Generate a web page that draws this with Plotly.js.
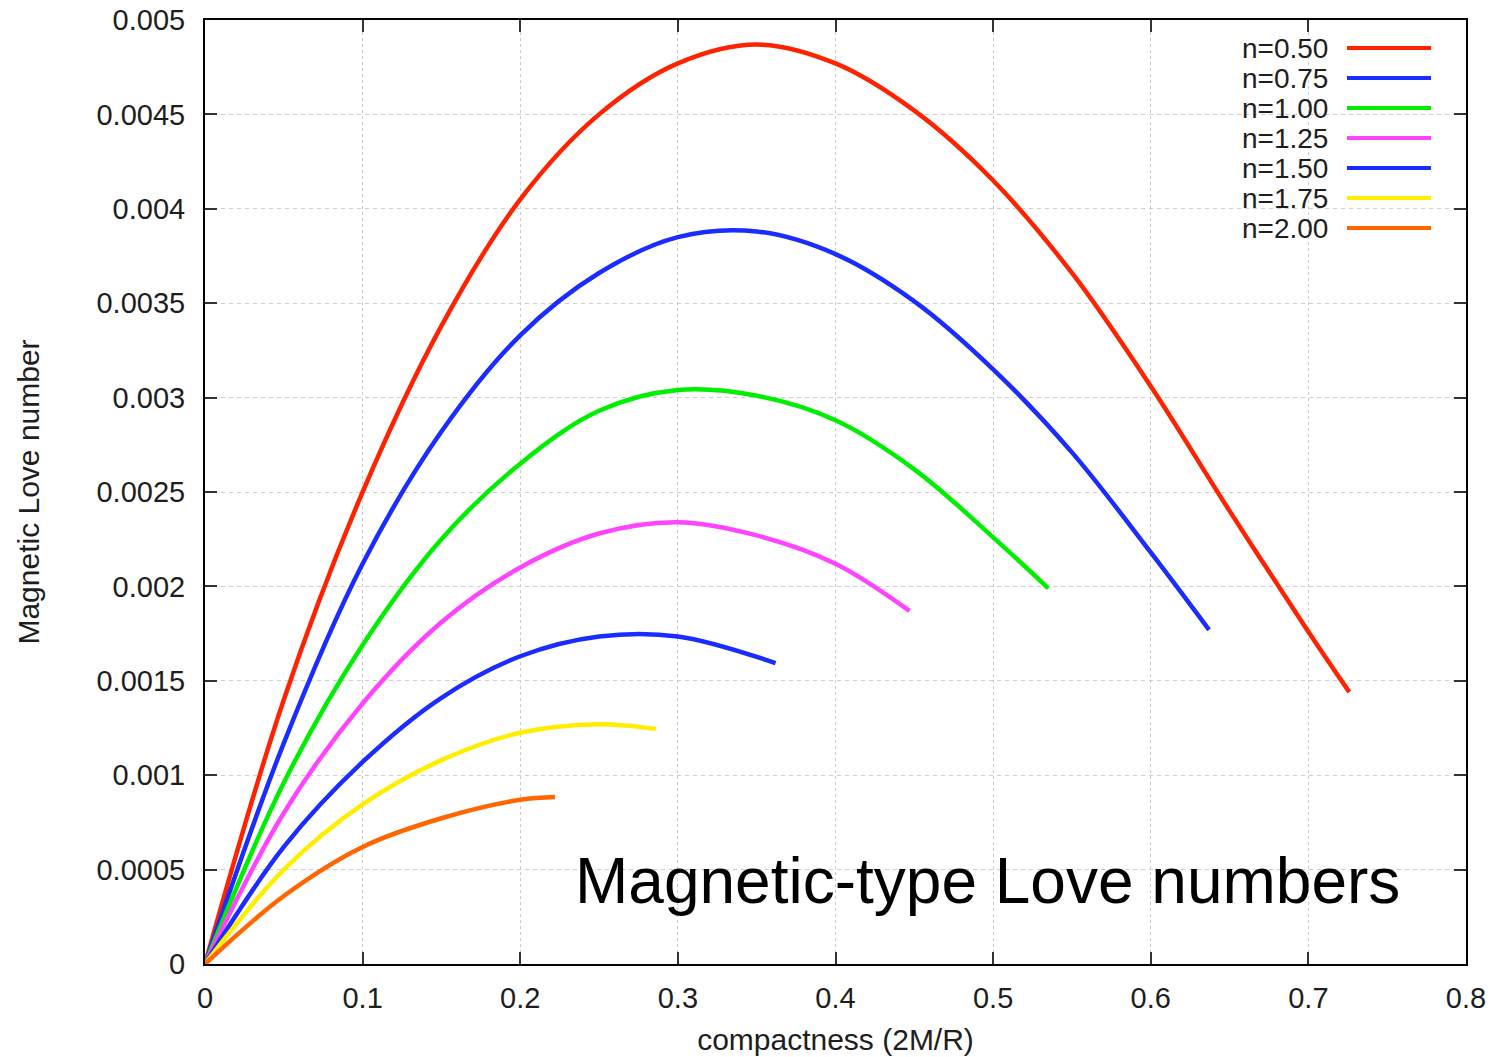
<!DOCTYPE html>
<html>
<head>
<meta charset="utf-8">
<script src="https://cdn.plot.ly/plotly-3.0.1.min.js"></script>
<style>
  html, body { margin: 0; padding: 0; background: #ffffff; }
  #chart { width: 1499px; height: 1057px; }
</style>
</head>
<body>
<div id="chart"></div>
<script>
// ---- Data ----
const seriesNames = ["n=0.50", "n=0.75", "n=1.00", "n=1.25", "n=1.50", "n=1.75", "n=2.00"];
const seriesColors = ["#ff2200", "#1a2cff", "#00ee00", "#ff44ff", "#1a2cff", "#ffee00", "#ff6600"];

const xN050 = [0, 0.05, 0.1, 0.15, 0.2, 0.25, 0.3, 0.35, 0.4, 0.45, 0.5, 0.55, 0.6, 0.65, 0.7, 0.726];
const yN050 = [0, 0.00140, 0.00250, 0.00338, 0.00405, 0.00450, 0.00477, 0.00487, 0.00477, 0.00452, 0.00415, 0.00366, 0.00306, 0.00240, 0.00176, 0.00144];

const xN075 = [0, 0.05, 0.1, 0.15, 0.2, 0.25, 0.3, 0.35, 0.4, 0.45, 0.5, 0.55, 0.6, 0.637];
const yN075 = [0, 0.00117, 0.00212, 0.00282, 0.00333, 0.00366, 0.00385, 0.00388, 0.00376, 0.00351, 0.00315, 0.00271, 0.00218, 0.00177];

const xN100 = [0, 0.05, 0.1, 0.15, 0.2, 0.25, 0.3, 0.35, 0.4, 0.45, 0.5, 0.535];
const yN100 = [0, 0.00096, 0.00169, 0.00225, 0.00265, 0.00293, 0.00304, 0.00301, 0.00288, 0.00262, 0.00226, 0.00199];

const xN125 = [0, 0.05, 0.1, 0.15, 0.2, 0.25, 0.3, 0.35, 0.4, 0.447];
const yN125 = [0, 0.00080, 0.00138, 0.00181, 0.00210, 0.00228, 0.00234, 0.00227, 0.00212, 0.00187];

const xN150 = [0, 0.05, 0.1, 0.15, 0.2, 0.25, 0.3, 0.362];
const yN150 = [0, 0.00062, 0.00107, 0.00141, 0.00163, 0.001735, 0.001735, 0.001594];

const xN175 = [0, 0.05, 0.1, 0.15, 0.2, 0.25, 0.286];
const yN175 = [0, 0.00050, 0.000845, 0.00108, 0.001225, 0.00127, 0.001245];

const xN200 = [0, 0.05, 0.1, 0.15, 0.2, 0.222];
const yN200 = [0, 0.00036, 0.00062, 0.000772, 0.00087, 0.000885];

const xTickVals = [0, 0.1, 0.2, 0.3, 0.4, 0.5, 0.6, 0.7, 0.8];
const xTickText = ["0", "0.1", "0.2", "0.3", "0.4", "0.5", "0.6", "0.7", "0.8"];
const yTickVals = [0, 0.0005, 0.001, 0.0015, 0.002, 0.0025, 0.003, 0.0035, 0.004, 0.0045, 0.005];
const yTickText = ["0", "0.0005", "0.001", "0.0015", "0.002", "0.0025", "0.003", "0.0035", "0.004", "0.0045", "0.005"];

const xTitle = "compactness (2M/R)";
const yTitle = "Magnetic Love number";
const panelLabel = "Magnetic-type Love numbers";

// ---- Build traces ----
const xs = [xN050, xN075, xN100, xN125, xN150, xN175, xN200];
const ys = [yN050, yN075, yN100, yN125, yN150, yN175, yN200];

const traces = xs.map((x, i) => ({
  type: "scatter",
  mode: "lines",
  x: x,
  y: ys[i],
  name: seriesNames[i],
  line: { color: seriesColors[i], width: 4.5, shape: "spline", smoothing: 1 },
  showlegend: false,
  hoverinfo: "skip"
}));

// ---- Geometry (pixels -> paper) ----
const W = 1499, H = 1057;
const mL = 205, mR = 33, mT = 20, mB = 93;
const plotW = W - mL - mR, plotH = H - mT - mB;
const px2x = px => (px - mL) / plotW;
const py2y = py => (H - mB - py) / plotH;

const FONT = "Liberation Sans, Arial, Helvetica, sans-serif";
const txtColor = "#1e1e1e";

// Custom legend: text left, line sample right
const shapes = [{
  type: "rect", xref: "paper", yref: "paper", layer: "below",
  x0: px2x(1222), x1: px2x(1442), y0: py2y(244), y1: py2y(30),
  fillcolor: "#ffffff", line: { width: 0 }
}];
const annotations = [];
seriesNames.forEach((name, i) => {
  const yy = py2y(48 + 30 * i);
  annotations.push({
    xref: "paper", yref: "paper", x: px2x(1329), y: yy,
    xanchor: "right", yanchor: "middle", showarrow: false,
    height: 28, borderpad: 0,
    text: name, font: { family: FONT, size: 28, color: txtColor }
  });
  shapes.push({
    type: "line", xref: "paper", yref: "paper", layer: "above",
    x0: px2x(1347), x1: px2x(1431), y0: yy, y1: yy,
    line: { color: seriesColors[i], width: 4 }
  });
});

annotations.push({
  xref: "paper", yref: "paper", x: px2x(987), y: py2y(881),
  xanchor: "center", yanchor: "middle", showarrow: false,
  text: panelLabel, font: { family: FONT, size: 64, color: "#000000" }
});

const axisCommon = {
  showline: true, linecolor: "#000000", linewidth: 2, mirror: "ticks",
  ticks: "inside", ticklen: 12, tickwidth: 2, tickcolor: "#333333",
  showgrid: true, gridcolor: "#cccccc", gridwidth: 1,
  zeroline: false, automargin: false,
  tickfont: { family: FONT, size: 29, color: txtColor }
};

const layout = {
  width: W, height: H,
  margin: { l: mL, r: mR, t: mT, b: mB, pad: 0 },
  paper_bgcolor: "#ffffff", plot_bgcolor: "#ffffff",
  showlegend: false,
  xaxis: Object.assign({}, axisCommon, {
    range: [0, 0.8], tickmode: "array", tickvals: xTickVals, ticktext: xTickText,
    griddash: "dot", ticklabelstandoff: 7,
    title: { text: xTitle, font: { family: FONT, size: 30, color: txtColor }, standoff: 16 }
  }),
  yaxis: Object.assign({}, axisCommon, {
    range: [0, 0.005], tickmode: "array", tickvals: yTickVals, ticktext: yTickText,
    griddash: "4px,4px", ticklabelstandoff: 12,
    title: { text: yTitle, font: { family: FONT, size: 30, color: txtColor }, standoff: 48 }
  }),
  shapes: shapes,
  annotations: annotations
};

Plotly.newPlot("chart", traces, layout, { staticPlot: true, displayModeBar: false });
</script>
</body>
</html>
